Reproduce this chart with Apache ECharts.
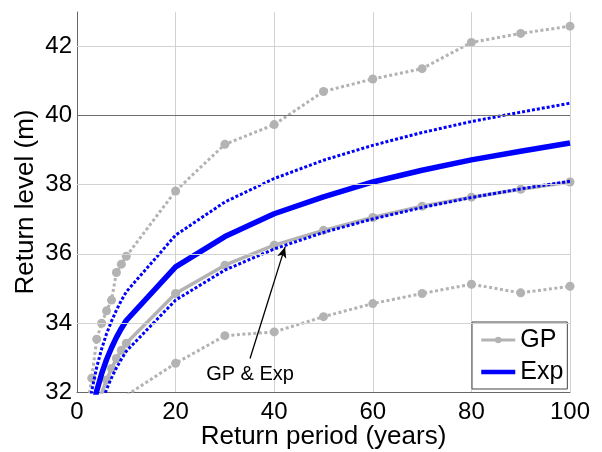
<!DOCTYPE html>
<html>
<head>
<meta charset="utf-8">
<script src="https://cdn.jsdelivr.net/npm/echarts@6/dist/echarts.min.js"></script>
<style>
html,body{margin:0;padding:0;background:#fff}
#main{width:602px;height:452px}
</style>
</head>
<body>
<div id="main"></div>
<script>
// return periods (years)
var periods = [2, 3, 4, 5, 6, 7, 8, 9, 10, 20, 30, 40, 50, 60, 70, 80, 90, 100];
// GP fit and its bounds (m)
var gpMid   = [30.1, 30.9, 31.5, 31.97, 32.35, 32.68, 32.97, 33.21, 33.41, 34.85, 35.67, 36.25, 36.68, 37.05, 37.38, 37.64, 37.87, 38.08];
var gpUpper = [31.5, 32.40, 33.53, 33.99, 34.35, 34.66, 35.46, 35.70, 35.93, 37.82, 39.17, 39.74, 40.70, 41.06, 41.36, 42.12, 42.38, 42.59];
var gpLower = [29.0, 29.8, 30.3, 30.7, 31.0, 31.3, 31.5, 31.7, 31.9, 32.83, 33.63, 33.74, 34.18, 34.56, 34.85, 35.12, 34.87, 35.06];
// Exp fit and its bounds (m)
var expMid   = [30.48, 31.39, 32.03, 32.53, 32.94, 33.28, 33.58, 33.84, 34.07, 35.62, 36.50, 37.16, 37.65, 38.08, 38.42, 38.72, 38.97, 39.21];
var expUpper = [31.08, 32.04, 32.72, 33.25, 33.69, 34.05, 34.37, 34.65, 34.90, 36.54, 37.50, 38.18, 38.71, 39.14, 39.51, 39.83, 40.10, 40.36];
var expLower = [29.73, 30.60, 31.21, 31.69, 32.08, 32.41, 32.70, 32.95, 33.18, 34.66, 35.53, 36.14, 36.62, 37.01, 37.34, 37.63, 37.88, 38.10];
// horizontal grid levels
var yGrid = [34, 36, 38, 40, 42];
// annotation (data coords)
var noteText = 'GP & Exp';
var noteAt = [35.1, 32.52];
var arrowFrom = [35.1, 32.97];
var arrowTo = [42.2, 36.2];

var FONT = 'Liberation Sans, Arial, sans-serif';
var GRAY = '#b3b3b3';
var BLUE = '#0000ff';

function pairs(ys) {
	var out = [];
	for (var i = 0; i < periods.length; i++) {
		out.push([periods[i], ys[i]]);
	}
	return out;
}

var gridLines = [];
for (var i = 0; i < yGrid.length; i++) {
	gridLines.push({
		yAxis: yGrid[i],
		lineStyle: {color: yGrid[i] == 40 ? '#6e6e6e' : '#d2d2d2', width: 1, type: 'solid'}
	});
}

var chart = echarts.init(document.getElementById('main'));
var option = {
	animation: false,
	backgroundColor: '#fff',
	grid: {left: 77, right: 32, top: 12, bottom: 60, containLabel: false, outerBoundsMode: 'none'},
	legend: {
		data: [
			{name: 'GP', lineStyle: {width: 3}},
			{name: 'Exp', itemStyle: {opacity: 0}, lineStyle: {width: 4.5}}
		],
		orient: 'vertical',
		left: 472,
		top: 322,
		padding: [4, 4, 3, 7],
		itemWidth: 34,
		itemHeight: 8,
		itemGap: 4,
		backgroundColor: '#fff',
		borderColor: '#444',
		borderWidth: 1,
		textStyle: {fontFamily: FONT, fontSize: 25, color: '#000', lineHeight: 28}
	},
	xAxis: {
		type: 'value',
		min: 0,
		max: 100,
		interval: 20,
		name: 'Return period (years)',
		nameLocation: 'middle',
		nameGap: 32,
		nameMoveOverlap: false,
		nameTextStyle: {fontFamily: FONT, fontSize: 26, color: '#000'},
		axisLine: {lineStyle: {color: '#666', width: 1}},
		axisTick: {show: false},
		axisLabel: {fontFamily: FONT, fontSize: 24, color: '#000', margin: 8},
		splitLine: {show: true, lineStyle: {color: '#d2d2d2', width: 1}}
	},
	yAxis: {
		type: 'value',
		min: 32,
		max: 43,
		interval: 2,
		name: 'Return level (m)',
		nameLocation: 'middle',
		nameGap: 38,
		nameMoveOverlap: false,
		nameTextStyle: {fontFamily: FONT, fontSize: 26, color: '#000'},
		axisLine: {show: true, lineStyle: {color: '#666', width: 1}},
		axisTick: {show: false},
		axisLabel: {fontFamily: FONT, fontSize: 24, color: '#000', margin: 5, showMaxLabel: false},
		splitLine: {show: false}
	},
	series: [
		{
			name: 'grid',
			type: 'line',
			z: 1,
			symbol: 'none',
			data: [noteAt],
			markLine: {
				silent: true,
				symbol: ['none', 'none'],
				label: {show: false},
				data: gridLines
			}
		},
		{
			name: 'GP upper',
			type: 'line',
			z: 3,
			data: pairs(gpUpper),
			symbol: 'circle',
			symbolSize: 9,
			showAllSymbol: true,
			itemStyle: {color: GRAY},
			lineStyle: {color: GRAY, width: 3, type: [3, 2.5]}
		},
		{
			name: 'GP lower',
			type: 'line',
			z: 3,
			data: pairs(gpLower),
			symbol: 'circle',
			symbolSize: 9,
			showAllSymbol: true,
			itemStyle: {color: GRAY},
			lineStyle: {color: GRAY, width: 3, type: [3, 2.5]}
		},
		{
			name: 'GP',
			type: 'line',
			z: 3,
			data: pairs(gpMid),
			symbol: 'circle',
			symbolSize: 9,
			showAllSymbol: true,
			itemStyle: {color: GRAY},
			lineStyle: {color: GRAY, width: 3.5}
		},
		{
			name: 'Exp upper',
			type: 'line',
			z: 4,
			data: pairs(expUpper),
			symbol: 'none',
			itemStyle: {color: BLUE},
			lineStyle: {color: BLUE, width: 3, type: [3, 2]}
		},
		{
			name: 'Exp lower',
			type: 'line',
			z: 4,
			data: pairs(expLower),
			symbol: 'none',
			itemStyle: {color: BLUE},
			lineStyle: {color: BLUE, width: 3, type: [3, 2]}
		},
		{
			name: 'Exp',
			type: 'line',
			z: 4,
			data: pairs(expMid),
			symbol: 'none',
			itemStyle: {color: BLUE},
			lineStyle: {color: BLUE, width: 5.5}
		},
		{
			name: 'note',
			type: 'line',
			z: 6,
			symbol: 'none',
			data: [noteAt],
			markLine: {
				silent: true,
				symbol: ['none', 'arrow'],
				symbolSize: [7, 11],
				label: {show: false},
				lineStyle: {color: '#000', width: 1.3, type: 'solid'},
				data: [[{coord: arrowFrom}, {coord: arrowTo}]]
			},
			markPoint: {
				silent: true,
				symbol: 'circle',
				symbolSize: 1,
				itemStyle: {color: 'rgba(0,0,0,0)'},
				label: {
					show: true,
					position: 'inside',
					formatter: noteText,
					fontFamily: FONT,
					fontSize: 20,
					color: '#000'
				},
				data: [{coord: noteAt}]
			}
		}
	]
};
chart.setOption(option);
</script>
</body>
</html>
